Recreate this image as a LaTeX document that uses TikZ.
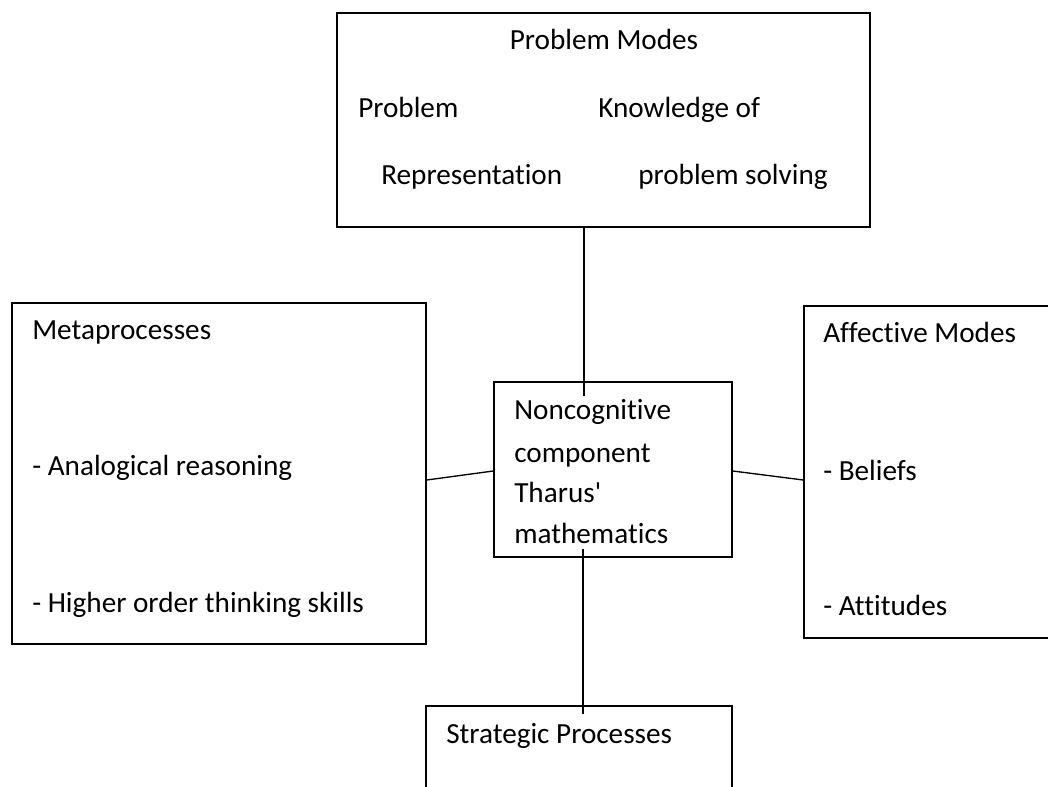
\documentclass[tikz,border=0pt]{standalone}
\usepackage{fontspec}
\setmainfont{Carlito}[Ligatures={TeXOff,NoCommon,NoRequired,NoContextual}]
\usetikzlibrary{calc}
\begin{document}
\begin{tikzpicture}[x=0.75pt,y=-0.75pt,
  boxstyle/.style={draw=black,line width=1.1pt,rectangle,inner sep=0pt},
  txt/.style={anchor=base west,inner sep=0pt,font=\fontsize{21.9}{26}\selectfont},
  ctxt/.style={anchor=base,inner sep=0pt,font=\fontsize{21.9}{26}\selectfont},
  link/.style={draw=black,line width=1pt}]
\useasboundingbox[clip] (0,0) rectangle (1048,787);
\fill[white] (0,0) rectangle (1048,787);
% boxes
\node[boxstyle,minimum width=533*0.75pt,minimum height=214*0.75pt] (top) at (603.5,120) {};
\node[boxstyle,minimum width=414*0.75pt,minimum height=341*0.75pt] (left) at (219,473.5) {};
\node[boxstyle,minimum width=238*0.75pt,minimum height=175*0.75pt] (center) at (613,469.5) {};
\node[boxstyle,minimum width=256*0.75pt,minimum height=332*0.75pt] (right) at (932,472) {};
\node[boxstyle,minimum width=306*0.75pt,minimum height=120*0.75pt] (bottom) at (579,766) {};
% texts
\node[ctxt] (t1) at (604,50) {Problem Modes};
\node[txt] (t2) at (358,118) {Problem};
\node[txt] (t3) at (598,118) {Knowledge of};
\node[txt] (t4) at (381,185) {Representation};
\node[txt] (t5) at (638,185) {problem solving};
\node[txt] (l1) at (32,340) {Metaprocesses};
\node[txt] (l2) at (32,475) {- Analogical reasoning};
\node[txt] (l3) at (32,612) {- Higher order thinking skills};
\node[txt] (c1) at (514,419) {Noncognitive};
\node[txt] (c2) at (514,462) {component};
\node[txt] (c3) at (514,502) {Tharus'};
\node[txt] (c4) at (514,543) {mathematics};
\node[txt] (r1) at (823,343) {Affective Modes};
\node[txt] (r2) at (823,480) {- Beliefs};
\node[txt] (r3) at (823,615) {- Attitudes};
\node[txt] (b1) at (446,743) {Strategic Processes};
% connectors
\coordinate (upend) at (584,396);
\coordinate (downstart) at (583,549);
\coordinate (downend) at (583,714);
\draw[link] (top.south -| upend) -- (upend);
\draw[link] ($(left.east)+(0,6.5)$) -- ($(center.west)+(0,1.5)$);
\draw[link] ($(center.east)+(0,1.5)$) -- ($(right.west)+(0,8)$);
\draw[link] (downstart) -- (downend);
\end{tikzpicture}
\end{document}
